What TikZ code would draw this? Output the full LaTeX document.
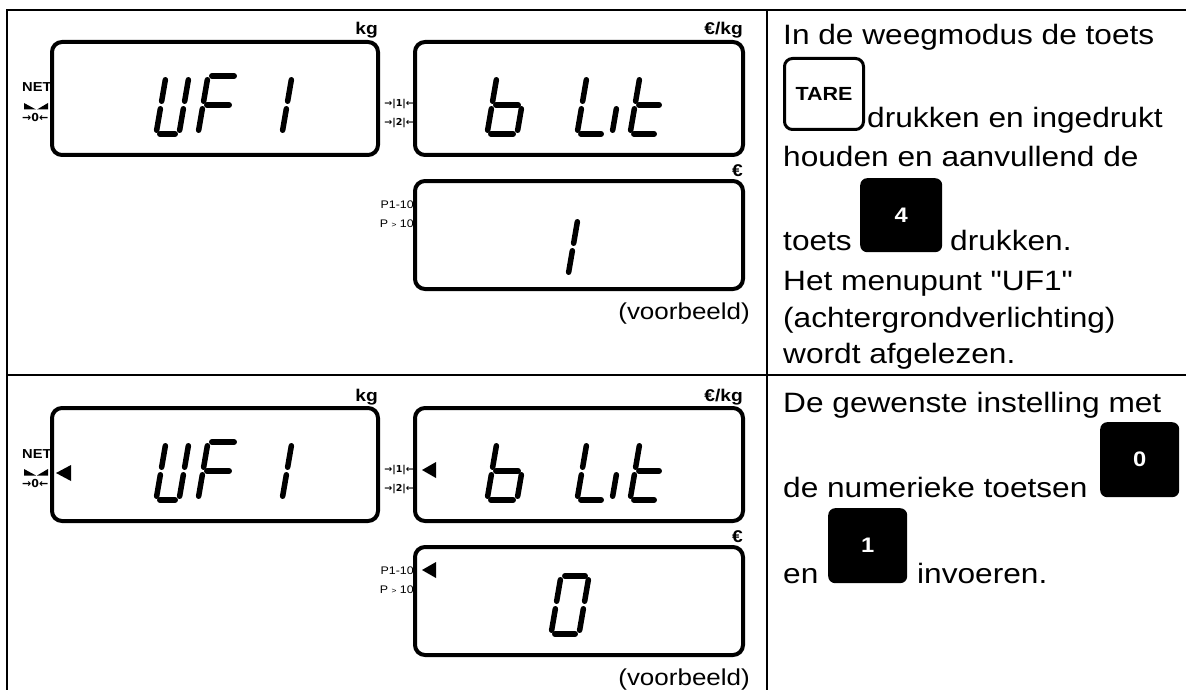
\documentclass[tikz,border=0pt]{standalone}
\usepackage{fontspec}
\setmainfont{Liberation Sans}[FakeStretch=1.13]
\newfontfamily\plainquote{Liberation Sans}[FakeStretch=1.13]
\newfontfamily\symfont{DejaVu Sans}
\tikzset{
  grid/.style={line width=2.5pt},
  lcdbox/.style={line width=4pt, rounded corners=10pt},
  lcdseg/.style={line width=5.5pt, line cap=round, shorten <=3.8pt, shorten >=3.8pt},
  txt/.style={anchor=base west, inner sep=0pt, font=\fontsize{28}{37.5}\selectfont},
  unitlbl/.style={anchor=base east, inner sep=0pt, font=\bfseries\fontsize{17}{17}\selectfont},
  smalllbl/.style={inner sep=0pt, font=\fontsize{11}{11}\selectfont},
  arrlbl/.style={inner sep=0pt, font=\symfont\bfseries\fontsize{9.5}{9.5}\selectfont},
  keyw/.style={draw, line width=3pt, fill=white, rounded corners=8pt, anchor=north west,
    inner sep=0pt, font=\bfseries\fontsize{19}{19}\selectfont},
  keyb/.style={fill=black, rounded corners=7pt, anchor=north west, text=white,
    inner sep=0pt, font=\bfseries\fontsize{21}{21}\selectfont},
  pointer/.style={fill=black}
}
\newcommand\lcdsegA{\draw[lcdseg] (TL) -- (TR);}
\newcommand\lcdsegB{\draw[lcdseg] (TR) -- (MR);}
\newcommand\lcdsegC{\draw[lcdseg] (MR) -- (BR);}
\newcommand\lcdsegD{\draw[lcdseg] (BL) -- (BR);}
\newcommand\lcdsegE{\draw[lcdseg] (ML) -- (BL);}
\newcommand\lcdsegF{\draw[lcdseg] (TL) -- (ML);}
\newcommand\lcdsegG{\draw[lcdseg] (ML) -- (MR);}
\newcommand\lcdchar[4]{%
  \begin{scope}[shift={(#1,#2)}]
    \coordinate (BL) at (0,0);
    \coordinate (BR) at (#3,0);
    \coordinate (ML) at (5,-29);
    \coordinate (MR) at ({#3+5},-29);
    \coordinate (TL) at (10,-58);
    \coordinate (TR) at ({#3+10},-58);
    \foreach \s in {#4}{\csname lcdseg\s\endcsname}
  \end{scope}}
\newcommand\lcdpanel[1]{%
  % display frames
  \draw[lcdbox] (52,42) rectangle (378,155);
  \draw[lcdbox] (415,42) rectangle (743,155);
  \draw[lcdbox] (415,181) rectangle (743,289);
  % unit labels
  \node[unitlbl] (kg#1) at (378,35) {kg};
  \node[unitlbl] (ekg#1) at (743,35) {€/kg};
  \node[unitlbl] (eur#1) at (743,176) {€};
  % left indicators
  \node[anchor=base west, inner sep=0pt, font=\bfseries\fontsize{13}{13}\selectfont] (net#1) at (22,92) {NET};
  \fill (24,103) -- (36,109.5) -- (24,109.5) -- cycle;
  \fill (48,103) -- (37,109.5) -- (48,109.5) -- cycle;
  \node[anchor=west, inner sep=0pt, font=\symfont\bfseries\fontsize{11}{11}\selectfont] (zero#1) at (22,117) {→0←};
  \node[arrlbl, anchor=east] (t1#1) at (414,104) {→|1|←};
  \node[arrlbl, anchor=east] (t2#1) at (414,123) {→|2|←};
  \node[smalllbl, anchor=east] (pa#1) at (414,205) {P1-10};
  \node[smalllbl, anchor=east] (pb#1) at (414,224) {P {\fontsize{7.5}{7.5}\selectfont >} 10};
  \node[anchor=base east, inner sep=0pt, font=\fontsize{23}{23}\selectfont] (vb#1) at (750,319) {(voorbeeld)};
  % digits
  \lcdchar{156}{134}{23}{B,C,D,E,F}
  \lcdchar{198}{134}{30}{A,E,F,G}
  \lcdchar{282}{134}{20}{E,F}
  \lcdchar{487}{134}{30}{C,D,E,F,G}
  \lcdchar{577}{134}{28}{D,E,F}
  \lcdchar{612}{134}{20}{E}
  \lcdchar{630}{134}{28}{D,E,F,G}
}
\begin{document}
\begin{tikzpicture}[x=1pt,y=-1pt]
  \useasboundingbox (0,0) rectangle (1186,690);
  \clip (0,0) rectangle (1186,690);
  % table
  \draw[grid] (7,10) rectangle (1196,702);
  \draw[grid] (767,10) -- (767,702);
  \draw[grid] (7,375) -- (1196,375);

  % top row displays
  \lcdpanel{a}
  \lcdchar{568}{276}{20}{E,F}

  % bottom row displays
  \begin{scope}[shift={(0,366)}]
    \lcdpanel{b}
  \end{scope}
  \lcdchar{551}{634}{28}{A,B,C,D,E,F}
  \fill[pointer] (56,473) -- (71,465) -- (71,481) -- cycle;
  \fill[pointer] (422,470) -- (436,462) -- (436,478) -- cycle;
  \fill[pointer] (422,570) -- (436,562) -- (436,578) -- cycle;

  % top row text
  \node[txt] (r1a) at (783,45) {In de weegmodus de toets};
  \node[keyw, minimum width=79pt, minimum height=71pt] (ktare) at (783,57) {TARE};
  \node[txt] (r1b) at (867,128) {drukken en ingedrukt};
  \node[txt] (r1c) at (783,167) {houden en aanvullend de};
  \node[txt] (r1d) at (783,250) {toets};
  \node[keyb, minimum width=82pt, minimum height=74pt] (kfour) at (860,178) {4};
  \node[txt] (r1e) at (950,250) {drukken.};
  \node[txt] (r1f) at (783,290) {Het menupunt {\plainquote "UF1"}};
  \node[txt] (r1g) at (783,327) {(achtergrondverlichting)};
  \node[txt] (r1h) at (783,363) {wordt afgelezen.};

  % bottom row text
  \node[txt] (r2a) at (783,412) {De gewenste instelling met};
  \node[keyb, minimum width=79pt, minimum height=75pt] (kzero) at (1100,422) {0};
  \node[txt] (r2b) at (783,497) {de numerieke toetsen};
  \node[txt] (r2c) at (783,583) {en};
  \node[keyb, minimum width=79pt, minimum height=75pt] (kone) at (828,508) {1};
  \node[txt] (r2d) at (917,583) {invoeren.};
\end{tikzpicture}
\end{document}
